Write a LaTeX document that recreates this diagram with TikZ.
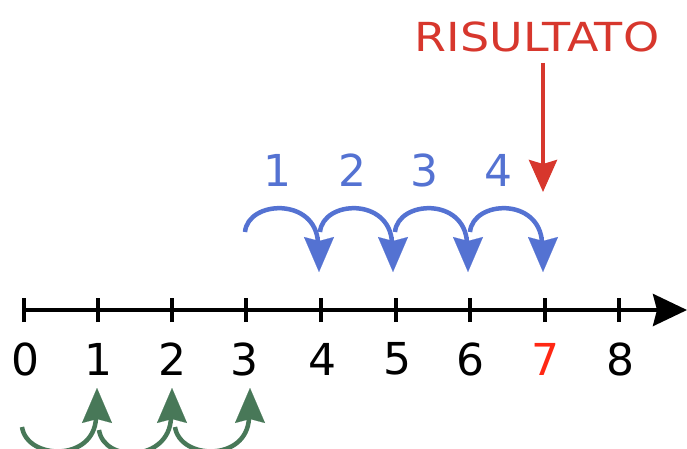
\documentclass[tikz,border=0pt]{standalone}
\usepackage{fontspec}
\setmainfont{DejaVu Sans}
\usetikzlibrary{arrows.meta}
\definecolor{jblue}{RGB}{84,114,210}
\definecolor{jgreen}{RGB}{72,120,88}
\definecolor{jred}{RGB}{215,55,45}
\definecolor{jseven}{RGB}{255,40,20}
\tikzset{
  numlbl/.style={font=\fontsize{44}{44}\selectfont, inner sep=0pt, anchor=center},
  tickmark/.style={line width=4pt},
  arcline/.style={line width=4.5pt},
  headtip/.style={line width=0.1pt, -{Stealth[length=35pt,width=30pt,inset=4pt]}},
  axisline/.style={black, line width=4pt, -{Stealth[length=34pt,width=32pt,inset=4pt]}},
  redarrow/.style={jred, line width=4pt, -{Stealth[length=32pt,width=28pt,inset=4pt]}}
}
\begin{document}
\begin{tikzpicture}[x=1pt,y=-1pt]
\useasboundingbox (0,0) rectangle (687,449);
\clip (0,0) rectangle (687,449);
\fill[white] (0,0) rectangle (687,449);
% axis
\coordinate (axs) at (22,310);
\coordinate (axe) at (687,310);
\draw[axisline] (axs) -- (axe);
\foreach \i/\x in {0/24,1/98,2/172,3/246,4/321,5/396,6/470,7/545,8/619}{
  \coordinate (t\i) at (\x,310);
  \draw[tickmark] ([yshift=-12pt]t\i) -- ([yshift=12pt]t\i);
}
% labels
\foreach \i/\x in {0/25,1/98,2/172,3/244,4/322,5/397,6/470,8/620}{
  \node[numlbl] (n\i) at (\x,359) {\i};
}
\node[numlbl, text=jseven] (n7) at (545,359) {7};
% blue step numbers
\foreach \i/\x in {1/277,2/352,3/424,4/498}{
  \node[numlbl, text=jblue] (b\i) at (\x,170) {\i};
}
% blue arcs
\foreach \i/\s/\e in {1/245/319,2/320/393,3/395/468,4/470/543}{
  \coordinate (bs\i) at (\s,232);
  \coordinate (bm\i) at (\e-1,243);
  \coordinate (bb\i) at (\e,237);
  \coordinate (be\i) at (\e,272);
  \draw[jblue, arcline] (bs\i) .. controls +(3,-32) and +(-2,-46) .. (bm\i);
  \draw[jblue, headtip] (bb\i) -- (be\i);
}
% green arcs
\foreach \i/\s/\sy/\e in {1/22/427/97,2/99/430/172,3/175/427/250}{
  \coordinate (gs\i) at (\s,\sy);
  \coordinate (gm\i) at (\e-1,418);
  \coordinate (gb\i) at (\e,423);
  \coordinate (ge\i) at (\e,388);
  \draw[jgreen, arcline] (gs\i) .. controls +(5,33) and +(-2,44) .. (gm\i);
  \draw[jgreen, headtip] (gb\i) -- (ge\i);
}
% result
\node[inner sep=0pt, text=jred, font=\fontsize{40}{40}\selectfont] (ris) at (537,37) {\scalebox{1.15}[1]{RISULTATO}};
\coordinate (rs) at (543,63);
\coordinate (re) at (543,192);
\draw[redarrow] (rs) -- (re);
\end{tikzpicture}
\end{document}
